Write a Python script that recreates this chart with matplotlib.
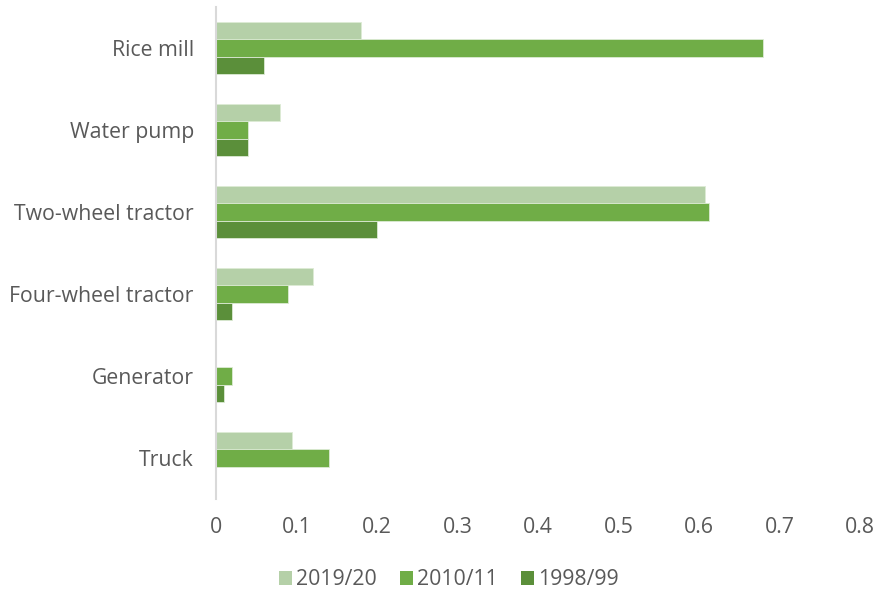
import numpy as np
import matplotlib.pyplot as plt
from matplotlib.patches import Patch

categories = ['Rice mill', 'Water pump', 'Two-wheel tractor',
              'Four-wheel tractor', 'Generator', 'Truck']
series_names = ['2019/20', '2010/11', '1998/99']
v2019 = [0.18, 0.08, 0.607, 0.12, 0.0, 0.094]
v2010 = [0.68, 0.04, 0.612, 0.09, 0.02, 0.14]
v1998 = [0.06, 0.04, 0.20, 0.02, 0.01, 0.0]
xticks = [0, 0.1, 0.2, 0.3, 0.4, 0.5, 0.6, 0.7, 0.8]

colors = ['#B5D0A8', '#70AD47', '#5B8F3A']
text_col = '#595959'
fs = 15.3

plt.rcParams['font.family'] = ['Open Sans', 'DejaVu Sans']

fig = plt.figure(figsize=(8.82, 5.96), dpi=100)
ax = fig.add_axes([0.2449, 0.1628, 0.7301, 0.8255])

y = np.arange(len(categories))
h = 0.213
for k, vals in enumerate([v2019, v2010, v1998]):
    ax.barh(y + (k - 1) * h, vals, height=h, color=colors[k],
            edgecolor='#DDEBD5', linewidth=0.6)

ax.set_ylim(len(categories) - 0.5, -0.5)
ax.set_xlim(0, 0.8)
ax.set_yticks(y)
ax.set_yticklabels(categories, fontsize=fs, color=text_col)
ax.set_xticks(xticks)
ax.set_xticklabels([str(t) for t in xticks], fontsize=fs, color=text_col)
ax.tick_params(axis='both', length=0)
ax.tick_params(axis='y', pad=16)
ax.tick_params(axis='x', pad=13)

for s in ['top', 'right', 'bottom']:
    ax.spines[s].set_visible(False)
ax.spines['left'].set_color('#D9D9D9')
ax.spines['left'].set_linewidth(1.5)

handles = [Patch(facecolor=c, edgecolor='none') for c in colors]
fig.legend(handles, series_names, loc='center', bbox_to_anchor=(0.509, 0.027),
           ncol=3, frameon=False, fontsize=fs, labelcolor=text_col,
           handlelength=0.6, handleheight=0.6, handletextpad=0.2, columnspacing=1.1)

fig.savefig('out.png', dpi=100)
